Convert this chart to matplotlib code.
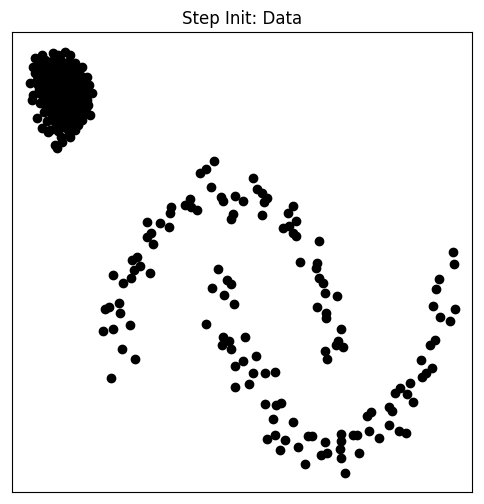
import matplotlib
matplotlib.use("Agg")
import matplotlib.pyplot as plt

# point positions (x right, y down)
blob_x = [35, 42, 53, 58, 65, 70, 75, 82, 87, 89, 92, 88, 90, 82, 78, 75, 70, 62, 57, 55, 48, 42, 37, 32, 33, 30, 35, 33, 38,
          45, 52, 60, 68, 76, 44, 51, 59, 66, 74, 81, 40, 48, 56, 63, 71, 79, 85, 38, 46, 53, 61, 69, 77, 84,
          41, 49, 57, 64, 72, 80, 86, 40, 47, 55, 62, 70, 78, 44, 52, 60, 67, 75, 82, 47, 55, 63, 71, 50, 58, 66,
          40, 48, 56, 64, 72, 79, 36, 43, 52, 60, 67, 75, 82, 37, 45, 52, 59, 66, 73, 80, 87,
          39, 47, 54, 61, 68, 76, 84, 43, 50, 57, 64, 71, 79, 46, 53, 60, 68, 75, 52, 59, 66, 72, 56, 63, 69, 61]
blob_y = [58, 55, 53, 55, 52, 55, 63, 67, 77, 85, 93, 105, 115, 120, 125, 130, 137, 142, 148, 145, 132, 128, 118, 100, 95, 83, 73, 67, 60,
          60, 61, 59, 62, 68, 68, 69, 67, 70, 73, 76, 76, 77, 75, 78, 80, 83, 84, 85, 86, 84, 87, 88, 90, 95,
          94, 95, 93, 96, 97, 100, 108, 103, 104, 102, 105, 106, 110, 112, 113, 111, 114, 117, 115, 121, 122, 120, 124, 130, 131, 128,
          64, 64, 63, 65, 66, 70, 72, 72, 72, 73, 74, 76, 80, 80, 81, 80, 82, 83, 85, 88, 100,
          90, 90, 89, 91, 92, 94, 90, 99, 99, 98, 100, 101, 104, 107, 108, 107, 109, 111, 117, 117, 116, 119, 126, 125, 134, 137]

moon_x = [214, 206, 200, 211, 221, 223, 235, 243, 233, 231, 190, 185, 191, 197, 171, 170, 147, 160, 169, 151,
          147, 153, 132, 137, 140, 134, 150, 113, 123, 131, 105, 109, 119, 120, 103, 113, 130, 122, 135, 111,
          253, 257, 262, 267, 264, 262, 293, 288, 296, 283, 289, 293, 296, 319, 300, 317, 316, 319, 323, 325,
          337, 317, 326, 326, 341, 338, 336, 343, 325, 327,
          218, 212, 227, 231, 224, 234, 206, 223, 229, 222, 231, 245, 256, 243, 235, 253, 265, 275, 249, 235,
          265, 276, 281, 273, 293, 267, 275, 285, 280, 298, 308, 312, 305, 325, 321, 327, 341, 341, 340, 341,
          345, 353, 357, 359, 367, 371, 369, 379, 389, 399, 406, 389, 392, 395, 400, 410, 407, 413, 422, 426,
          432, 421, 430, 435, 433, 455, 440, 450, 439, 436, 453, 454]
moon_y = [161, 169, 173, 187, 197, 201, 196, 201, 214, 219, 199, 205, 207, 210, 207, 213, 222, 223, 227, 233,
          237, 244, 260, 257, 266, 270, 273, 275, 283, 278, 309, 307, 303, 313, 331, 329, 325, 349, 359, 378,
          178, 189, 193, 198, 202, 215, 206, 213, 221, 228, 226, 233, 236, 241, 262, 263, 268, 278, 283, 293,
          296, 307, 313, 318, 329, 341, 345, 347, 351, 359,
          269, 288, 280, 284, 295, 304, 324, 337, 341, 345, 349, 337, 356, 361, 366, 373, 373, 372, 384, 387,
          404, 405, 403, 419, 422, 439, 435, 440, 450, 447, 436, 436, 464, 442, 455, 453, 434, 441, 449, 458,
          473, 435, 435, 453, 416, 412, 431, 438, 425, 431, 433, 407, 411, 393, 388, 383, 394, 402, 377, 373,
          368, 360, 345, 340, 306, 309, 317, 321, 279, 289, 252, 264]

xs = blob_x + moon_x
ys = blob_y + moon_y

fig = plt.figure(figsize=(4.84, 5.04), dpi=100)
ax = fig.add_axes([12 / 484, 12 / 504, 460 / 484, 460 / 504])
ax.scatter(xs, ys, color='black')
ax.set_xlim(12, 472)
ax.set_ylim(492, 32)
ax.set_xticks([])
ax.set_yticks([])
ax.set_title('Step Init: Data')
fig.savefig('out.png', dpi=100)
